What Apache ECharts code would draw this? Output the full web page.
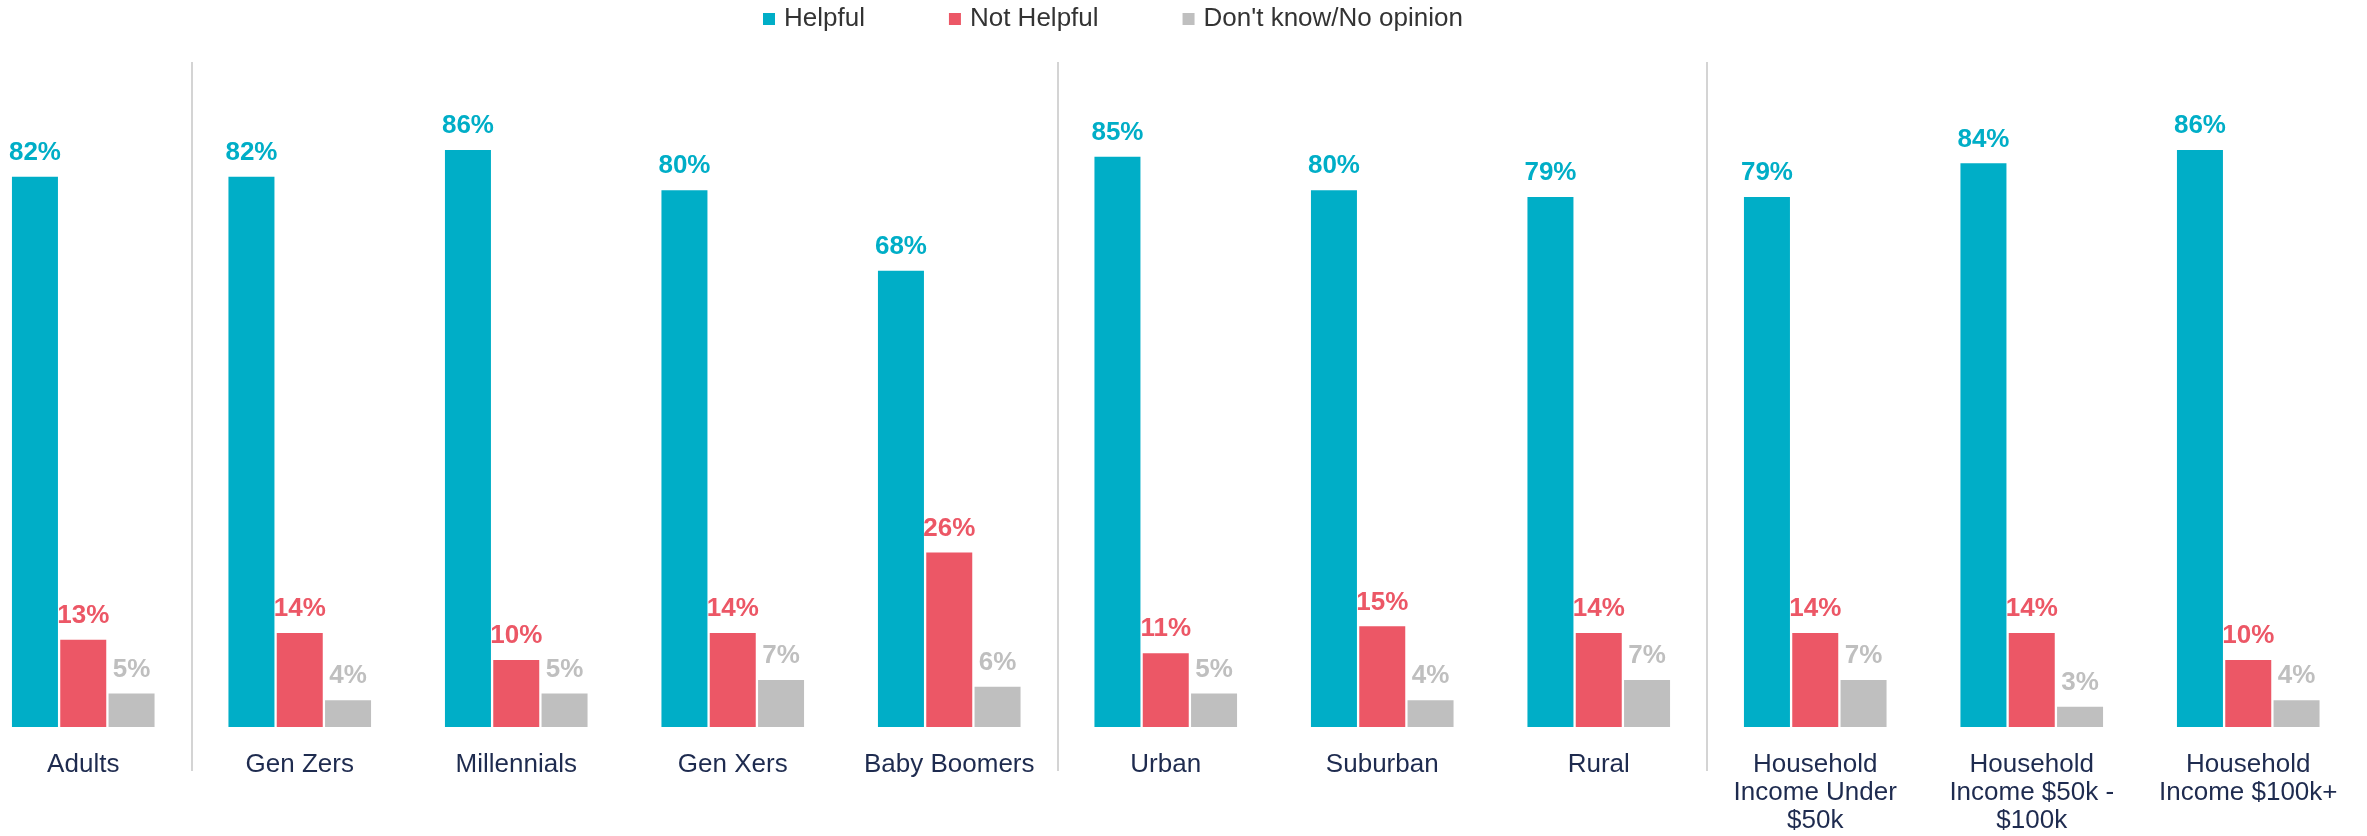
<!DOCTYPE html>
<html>
<head>
<meta charset="utf-8">
<title>Helpful / Not Helpful</title>
<script src="https://cdn.jsdelivr.net/npm/echarts@6/dist/echarts.min.js"></script>
<style>
  html, body { margin: 0; padding: 0; background: #fff; overflow: hidden; }
  /* the first group hangs a bit past the left edge, so the canvas starts left of the page */
  #main { position: relative; left: -25px; width: 2392px; height: 836px; }
</style>
</head>
<body>
<div id="main"></div>
<script>
const categories = [
  'Adults', 'Gen Zers', 'Millennials', 'Gen Xers', 'Baby Boomers',
  'Urban', 'Suburban', 'Rural',
  'Household\nIncome Under\n$50k', 'Household\nIncome $50k -\n$100k', 'Household\nIncome $100k+'
]
const helpful = [82, 82, 86, 80, 68, 85, 80, 79, 79, 84, 86]
const notHelpful = [13, 14, 10, 14, 26, 11, 15, 14, 14, 14, 10]
const dontKnow = [5, 4, 5, 7, 6, 5, 4, 7, 7, 3, 4]
// separators sit after these category indexes
const groupEnds = [0, 4, 7]

const FONT = 'Arial, "Liberation Sans", sans-serif'
const colors = ['#00AEC7', '#EC5766', '#BFBFBF']

function makeSeries(name, data, color) {
  return {
    name: name,
    type: 'bar',
    data: data,
    barWidth: 46,
    barGap: '5%',
    itemStyle: { color: color },
    label: {
      show: true,
      position: 'top',
      distance: 11,
      formatter: '{c}%',
      color: color,
      fontFamily: FONT,
      fontSize: 26,
      fontWeight: 'bold'
    }
  }
}

const chart = echarts.init(document.getElementById('main'))
const option = {
  animation: false,
  legend: {
    left: 788,
    top: 6,
    padding: 0,
    itemWidth: 12,
    itemHeight: 12,
    itemGap: 84,
    icon: 'rect',
    textStyle: {
      fontFamily: FONT,
      fontSize: 26,
      color: '#333333',
      padding: [0, 0, 0, 4]
    }
  },
  grid: {
    left: 0,
    right: 10.5,
    top: 56,
    bottom: 109
  },
  xAxis: {
    type: 'category',
    data: categories,
    axisLine: { show: false },
    axisTick: { show: false },
    axisLabel: {
      interval: 0,
      margin: 24,
      fontFamily: FONT,
      fontSize: 26,
      lineHeight: 28,
      color: '#1E2B4F'
    }
  },
  yAxis: {
    type: 'value',
    min: 0,
    max: 100,
    show: false
  },
  series: [
    makeSeries('Helpful', helpful, colors[0]),
    makeSeries('Not Helpful', notHelpful, colors[1]),
    makeSeries("Don't know/No opinion", dontKnow, colors[2])
  ]
}
chart.setOption(option)

// vertical separators between the groups, placed from the axis scale
const sepLines = groupEnds.map(i => {
  const a = chart.convertToPixel({ xAxisIndex: 0 }, categories[i])
  const b = chart.convertToPixel({ xAxisIndex: 0 }, categories[i + 1])
  const x = Math.round((a + b) / 2)
  return {
    type: 'line',
    shape: { x1: x, y1: 62, x2: x, y2: 771 },
    style: { stroke: '#D4D4D4', lineWidth: 2 },
    silent: true
  }
})
chart.setOption({ graphic: sepLines })
</script>
</body>
</html>
